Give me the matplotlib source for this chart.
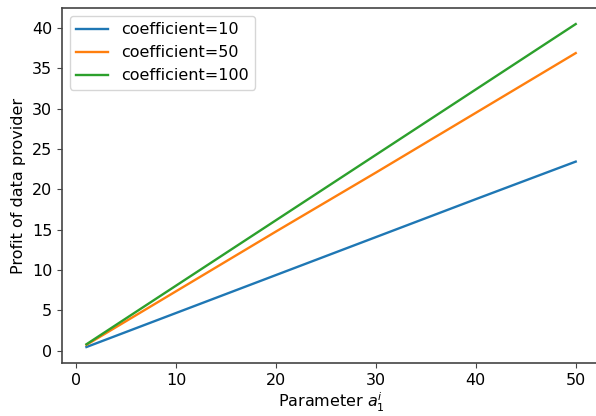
import matplotlib.pyplot as plt

# parameter values and profits
x = [1, 10, 20, 30, 40, 50]
profit_10 = [0.47, 4.7, 9.4, 14.1, 18.8, 23.45]
profit_50 = [0.74, 7.4, 14.8, 22.1, 29.5, 36.9]
profit_100 = [0.81, 8.1, 16.2, 24.3, 32.4, 40.5]

plt.rcParams["font.size"] = 11.5

fig, ax = plt.subplots(figsize=(5.96, 4.16), dpi=100)
ax.plot(x, profit_10, label="coefficient=10", lw=1.7)
ax.plot(x, profit_50, label="coefficient=50", lw=1.7)
ax.plot(x, profit_100, label="coefficient=100", lw=1.7)

ax.set_xlabel("Parameter $a_1^i$", labelpad=2)
ax.set_ylabel("Profit of data provider")
ax.set_xticks([0, 10, 20, 30, 40, 50])
ax.set_yticks([0, 5, 10, 15, 20, 25, 30, 35, 40])
ax.legend(loc="upper left")

for s in ax.spines.values():
    s.set_color("#444444")
    s.set_linewidth(1.2)
ax.tick_params(color="#444444")

plt.subplots_adjust(left=0.104, right=1.007, top=0.981, bottom=0.127)
plt.savefig("out.png")
